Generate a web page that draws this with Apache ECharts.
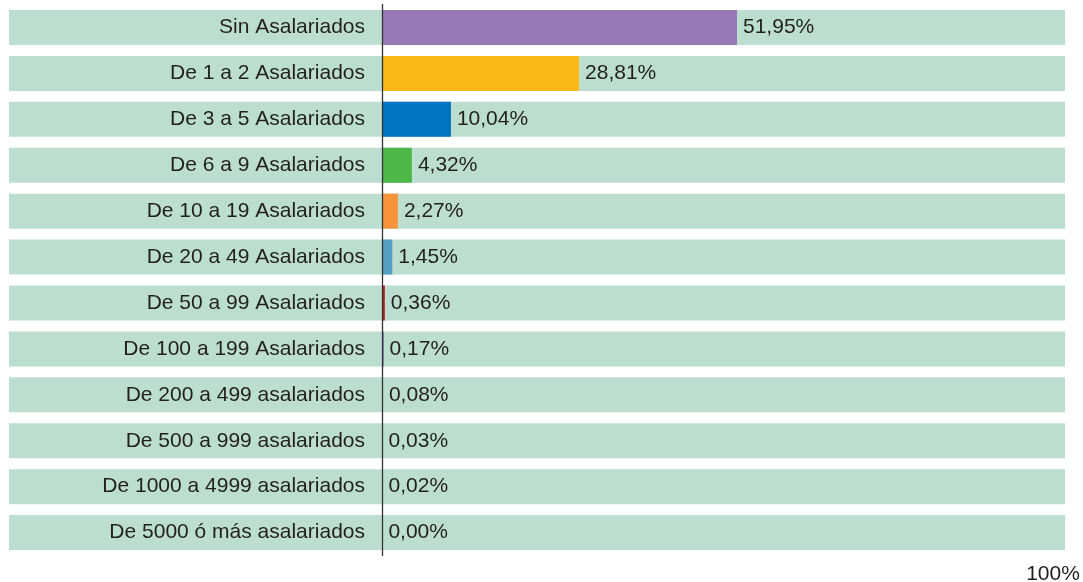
<!DOCTYPE html>
<html>
<head>
<meta charset="utf-8">
<script src="https://cdn.jsdelivr.net/npm/echarts@6/dist/echarts.min.js"></script>
<style>
  html, body { margin: 0; padding: 0; background: #fff; }
  #chart { width: 1083px; height: 582px; }
</style>
</head>
<body>
<div id="chart"></div>
<script>
// categories, top to bottom
const categories = [
  'Sin Asalariados',
  'De 1 a 2 Asalariados',
  'De 3 a 5 Asalariados',
  'De 6 a 9 Asalariados',
  'De 10 a 19 Asalariados',
  'De 20 a 49 Asalariados',
  'De 50 a 99 Asalariados',
  'De 100 a 199 Asalariados',
  'De 200 a 499 asalariados',
  'De 500 a 999 asalariados',
  'De 1000 a 4999 asalariados',
  'De 5000 ó más asalariados'
]
// share of companies, %
const shares = [51.95, 28.81, 10.04, 4.32, 2.27, 1.45, 0.36, 0.17, 0.08, 0.03, 0.02, 0.00]
const barColors = [
  '#9879b7', '#fbb917', '#0074c1', '#4db848', '#f7943b', '#56a0c3',
  '#bf1e24', '#6a46a0', '#6a46a0', '#6a46a0', '#6a46a0', '#6a46a0'
]
const maxLabel = 100

const chart = echarts.init(document.getElementById('chart'))

chart.setOption({
  animation: false,
  backgroundColor: '#ffffff',
  textStyle: { fontFamily: 'Liberation Sans, Arial, sans-serif' },
  grid: {
    left: 9,
    right: 18,
    top: 4.5,
    bottom: 26.5,
    containLabel: false,
    outerBoundsMode: 'none'
  },
  xAxis: {
    type: 'value',
    min: -54.7,
    max: 100,
    axisLine: { show: false },
    axisTick: { show: false },
    splitLine: { show: false },
    axisLabel: {
      show: true,
      margin: 8,
      fontSize: 21,
      color: '#231f20',
      padding: [0, 24, 0, 0],
      formatter: (v) => (v === maxLabel ? maxLabel + '%' : '')
    }
  },
  yAxis: {
    type: 'category',
    inverse: true,
    z: 10,
    data: categories,
    axisLine: {
      show: true,
      onZero: true,
      lineStyle: { color: '#333333', width: 1.3 }
    },
    axisTick: { show: false },
    axisLabel: {
      // labels sit at the grid edge in v6, so pull them in to the zero line
      margin: -356,
      fontSize: 21,
      color: '#231f20'
    }
  },
  series: [{
    type: 'bar',
    barWidth: 35,
    data: shares.map((v, i) => ({ value: v, itemStyle: { color: barColors[i] } })),
    showBackground: true,
    backgroundStyle: { color: '#bcded1' },
    label: {
      show: true,
      position: 'right',
      distance: 6,
      fontSize: 21,
      color: '#231f20',
      formatter: (p) => p.value.toFixed(2).replace('.', ',') + '%'
    }
  }]
})
</script>
</body>
</html>
